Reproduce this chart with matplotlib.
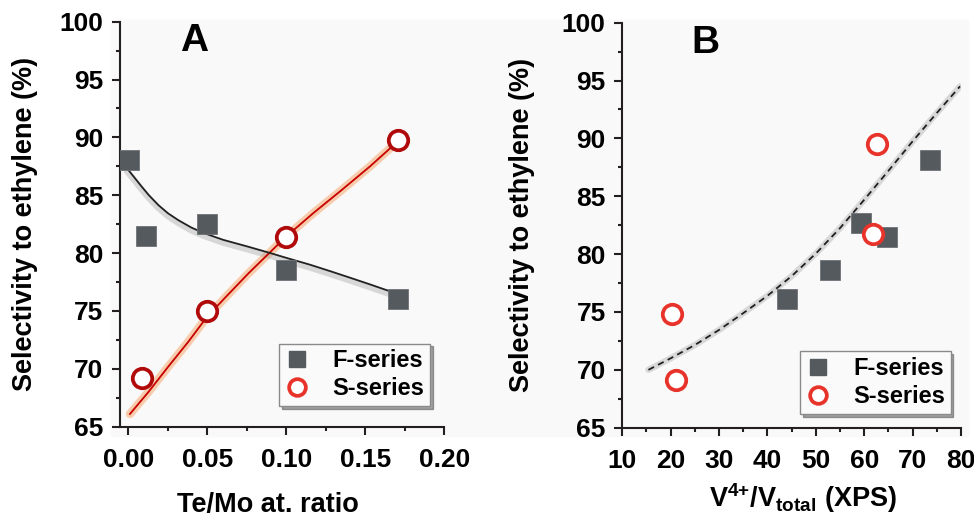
import matplotlib
matplotlib.use("Agg")
import matplotlib.pyplot as plt
from matplotlib.patches import Rectangle
from matplotlib.lines import Line2D
from matplotlib.ticker import MultipleLocator

# ---- panel A data: selectivity vs Te/Mo ratio
a_f_x = [0.0004, 0.011, 0.0496, 0.0996, 0.1705]
a_f_y = [88.05, 81.5, 82.5, 78.5, 76.0]
a_s_x = [0.0084, 0.0498, 0.0996, 0.1705]
a_s_y = [69.2, 75.0, 81.4, 89.75]

# fit curves
a_f_fit_x = [-0.001, 0.004, 0.0084, 0.013, 0.019, 0.025, 0.0316, 0.04, 0.0485, 0.06,
             0.076, 0.09, 0.101, 0.115, 0.1287, 0.142, 0.154, 0.1667]
a_f_fit_y = [87.35, 86.5, 85.75, 85.0, 84.15, 83.45, 82.85, 82.2, 81.7, 81.15,
             80.55, 80.0, 79.55, 79.0, 78.4, 77.8, 77.25, 76.65]
a_s_fit_x = [0.001, 0.0127, 0.0253, 0.038, 0.0498, 0.063, 0.076, 0.088, 0.0996,
             0.117, 0.135, 0.153, 0.1705]
a_s_fit_y = [66.1, 68.0, 70.2, 72.35, 74.5, 76.4, 78.25, 79.85, 81.4,
             83.45, 85.45, 87.5, 89.65]

# ---- panel B data: selectivity vs V4+/Vtotal
b_f_x = [44.0, 52.9, 59.3, 64.7, 73.6]
b_f_y = [76.1, 78.65, 82.7, 81.5, 88.1]
b_s_x = [20.3, 21.1, 61.9, 62.6]
b_s_y = [74.85, 69.1, 81.75, 89.5]

b_fit_x = [15.4, 20, 25, 30, 35, 40, 45, 50, 55, 60, 65, 70, 75, 79.8]
b_fit_y = [70.0, 71.0, 72.15, 73.45, 74.9, 76.4, 78.1, 80.05, 82.25, 84.7, 87.2, 89.75, 92.2, 94.5]

y_ticks = [65, 70, 75, 80, 85, 90, 95, 100]
a_xticks = [0.00, 0.05, 0.10, 0.15, 0.20]
b_xticks = [10, 20, 30, 40, 50, 60, 70, 80]

plt.rcParams['font.family'] = ['Liberation Sans', 'DejaVu Sans']
plt.rcParams['font.weight'] = 'bold'
plt.rcParams['mathtext.fontset'] = 'custom'
plt.rcParams['mathtext.rm'] = 'Liberation Sans:bold'
plt.rcParams['mathtext.it'] = 'Liberation Sans:bold'
plt.rcParams['mathtext.bf'] = 'Liberation Sans:bold'

SPINE = '#231f20'
SQ = '#555a5e'
RED = '#e8332a'
DARKRED = '#b00a0a'

W, H = 974, 517
fig = plt.figure(figsize=(W / 100, H / 100), dpi=100)

# light grey panel behind both plots
fig.patches.append(Rectangle((111 / W, 1 - 436 / H), (968 - 111) / W, (436 - 20) / H,
                             transform=fig.transFigure, color='#f9f9f9', zorder=-5))

axA = fig.add_axes([120 / W, 1 - 426.7 / H, 324.3 / W, 405 / H])
axB = fig.add_axes([622.3 / W, 1 - 427.7 / H, 338.7 / W, 405 / H])


def style(ax):
    ax.set_facecolor('none')
    for s in ['top', 'right']:
        ax.spines[s].set_visible(False)
    for s in ['left', 'bottom']:
        ax.spines[s].set_color(SPINE)
        ax.spines[s].set_linewidth(1.5)
    ax.set_ylim(65, 100)
    ax.set_yticks(y_ticks)
    ax.yaxis.set_minor_locator(MultipleLocator(2.5))
    ax.tick_params(which='major', direction='out', length=6, width=1.5, color=SPINE,
                   labelsize=19, labelcolor='black')
    ax.tick_params(which='minor', direction='out', length=3, width=1.5, color=SPINE)
    ax.tick_params(axis='x', which='major', pad=9)
    ax.tick_params(axis='y', which='major', pad=6)
    ax.set_ylabel('Selectivity to ethylene (%)', fontsize=19.5, fontweight='bold')
    ax.yaxis.label.set_va('center')


style(axA)
style(axB)

# ---- panel A
axA.set_xlim(-0.0053, 0.2)
axA.set_xticks(a_xticks)
axA.set_xticklabels(['%.2f' % v for v in a_xticks])
axA.xaxis.set_minor_locator(MultipleLocator(0.025))

# glows under the fit lines
axA.plot(a_s_fit_x, a_s_fit_y, color='#f7a060', lw=6, alpha=0.5, solid_capstyle='round', zorder=2)
axA.plot(a_f_fit_x, [v - 0.25 for v in a_f_fit_y], color='#9a9a9a', lw=4.5, alpha=0.35,
         solid_capstyle='round', zorder=2)
axA.plot(a_s_fit_x, a_s_fit_y, color='#c80000', lw=1.3, zorder=3)
axA.plot(a_f_fit_x, a_f_fit_y, color='#222222', lw=1.3, zorder=3)

axA.plot(a_f_x, a_f_y, 's', ms=14.5, mfc=SQ, mec='#6e7377', mew=0.6, ls='none', zorder=4)
axA.plot(a_s_x, a_s_y, 'o', ms=14, mfc='white', mec=DARKRED, mew=2.7, ls='none', zorder=5)

axA.text(0.227, 0.952, 'A', transform=axA.transAxes, fontsize=28, fontweight='bold',
         ha='center', va='center')
axA.set_xlabel('Te/Mo at. ratio', fontsize=19.5, fontweight='bold')
axA.xaxis.set_label_coords(0.455, -0.21)
axA.xaxis.label.set_va('baseline')
axA.yaxis.set_label_coords(-0.293, 0.5)

# ---- panel B
axB.set_xlim(10, 80)
axB.set_xticks(b_xticks)
axB.xaxis.set_minor_locator(MultipleLocator(5))

axB.plot(b_fit_x, b_fit_y, color='#b0b0b0', lw=4.5, alpha=0.45, solid_capstyle='round', zorder=2)
axB.plot(b_fit_x, b_fit_y, color=SPINE, lw=1.3, dashes=(3.5, 2.5), zorder=3)

axB.plot(b_f_x, b_f_y, 's', ms=14.5, mfc=SQ, mec='#6e7377', mew=0.6, ls='none', zorder=4)
axB.plot(b_s_x, b_s_y, 'o', ms=14, mfc='white', mec=RED, mew=2.7, ls='none', zorder=5)

axB.text(0.244, 0.951, 'B', transform=axB.transAxes, fontsize=28, fontweight='bold',
         ha='center', va='center')
axB.set_xlabel(r'V$^{\mathrm{4{+}}}$/V$_{\mathrm{total}}$ (XPS)', fontsize=19.5, fontweight='bold')
axB.xaxis.set_label_coords(0.532, -0.196)
axB.xaxis.label.set_va('baseline')
axB.yaxis.set_label_coords(-0.296, 0.5)

# ---- legends
handles = [Line2D([], [], marker='s', ms=12, mfc=SQ, mec=SQ, ls='none'),
           Line2D([], [], marker='o', ms=12, mfc='white', mec=RED, mew=2.7, ls='none')]
for ax, anchor in [(axA, (0.956, 0.051)), (axB, (0.9696, 0.034))]:
    leg = ax.legend(handles, ['F-series', 'S-series'], loc='lower right', bbox_to_anchor=anchor,
                    borderaxespad=0, fontsize=17, frameon=True, fancybox=False, shadow=True,
                    handlelength=1.0, handletextpad=1.0, borderpad=0.25, labelspacing=0.2,
                    framealpha=1)
    leg.get_frame().set_edgecolor('#8a8a8a')
    leg.get_frame().set_linewidth(1.0)
    leg.get_frame().set_facecolor('#fafafa')
    for t in leg.get_texts():
        t.set_fontweight('bold')

fig.savefig('out.png', dpi=100)
